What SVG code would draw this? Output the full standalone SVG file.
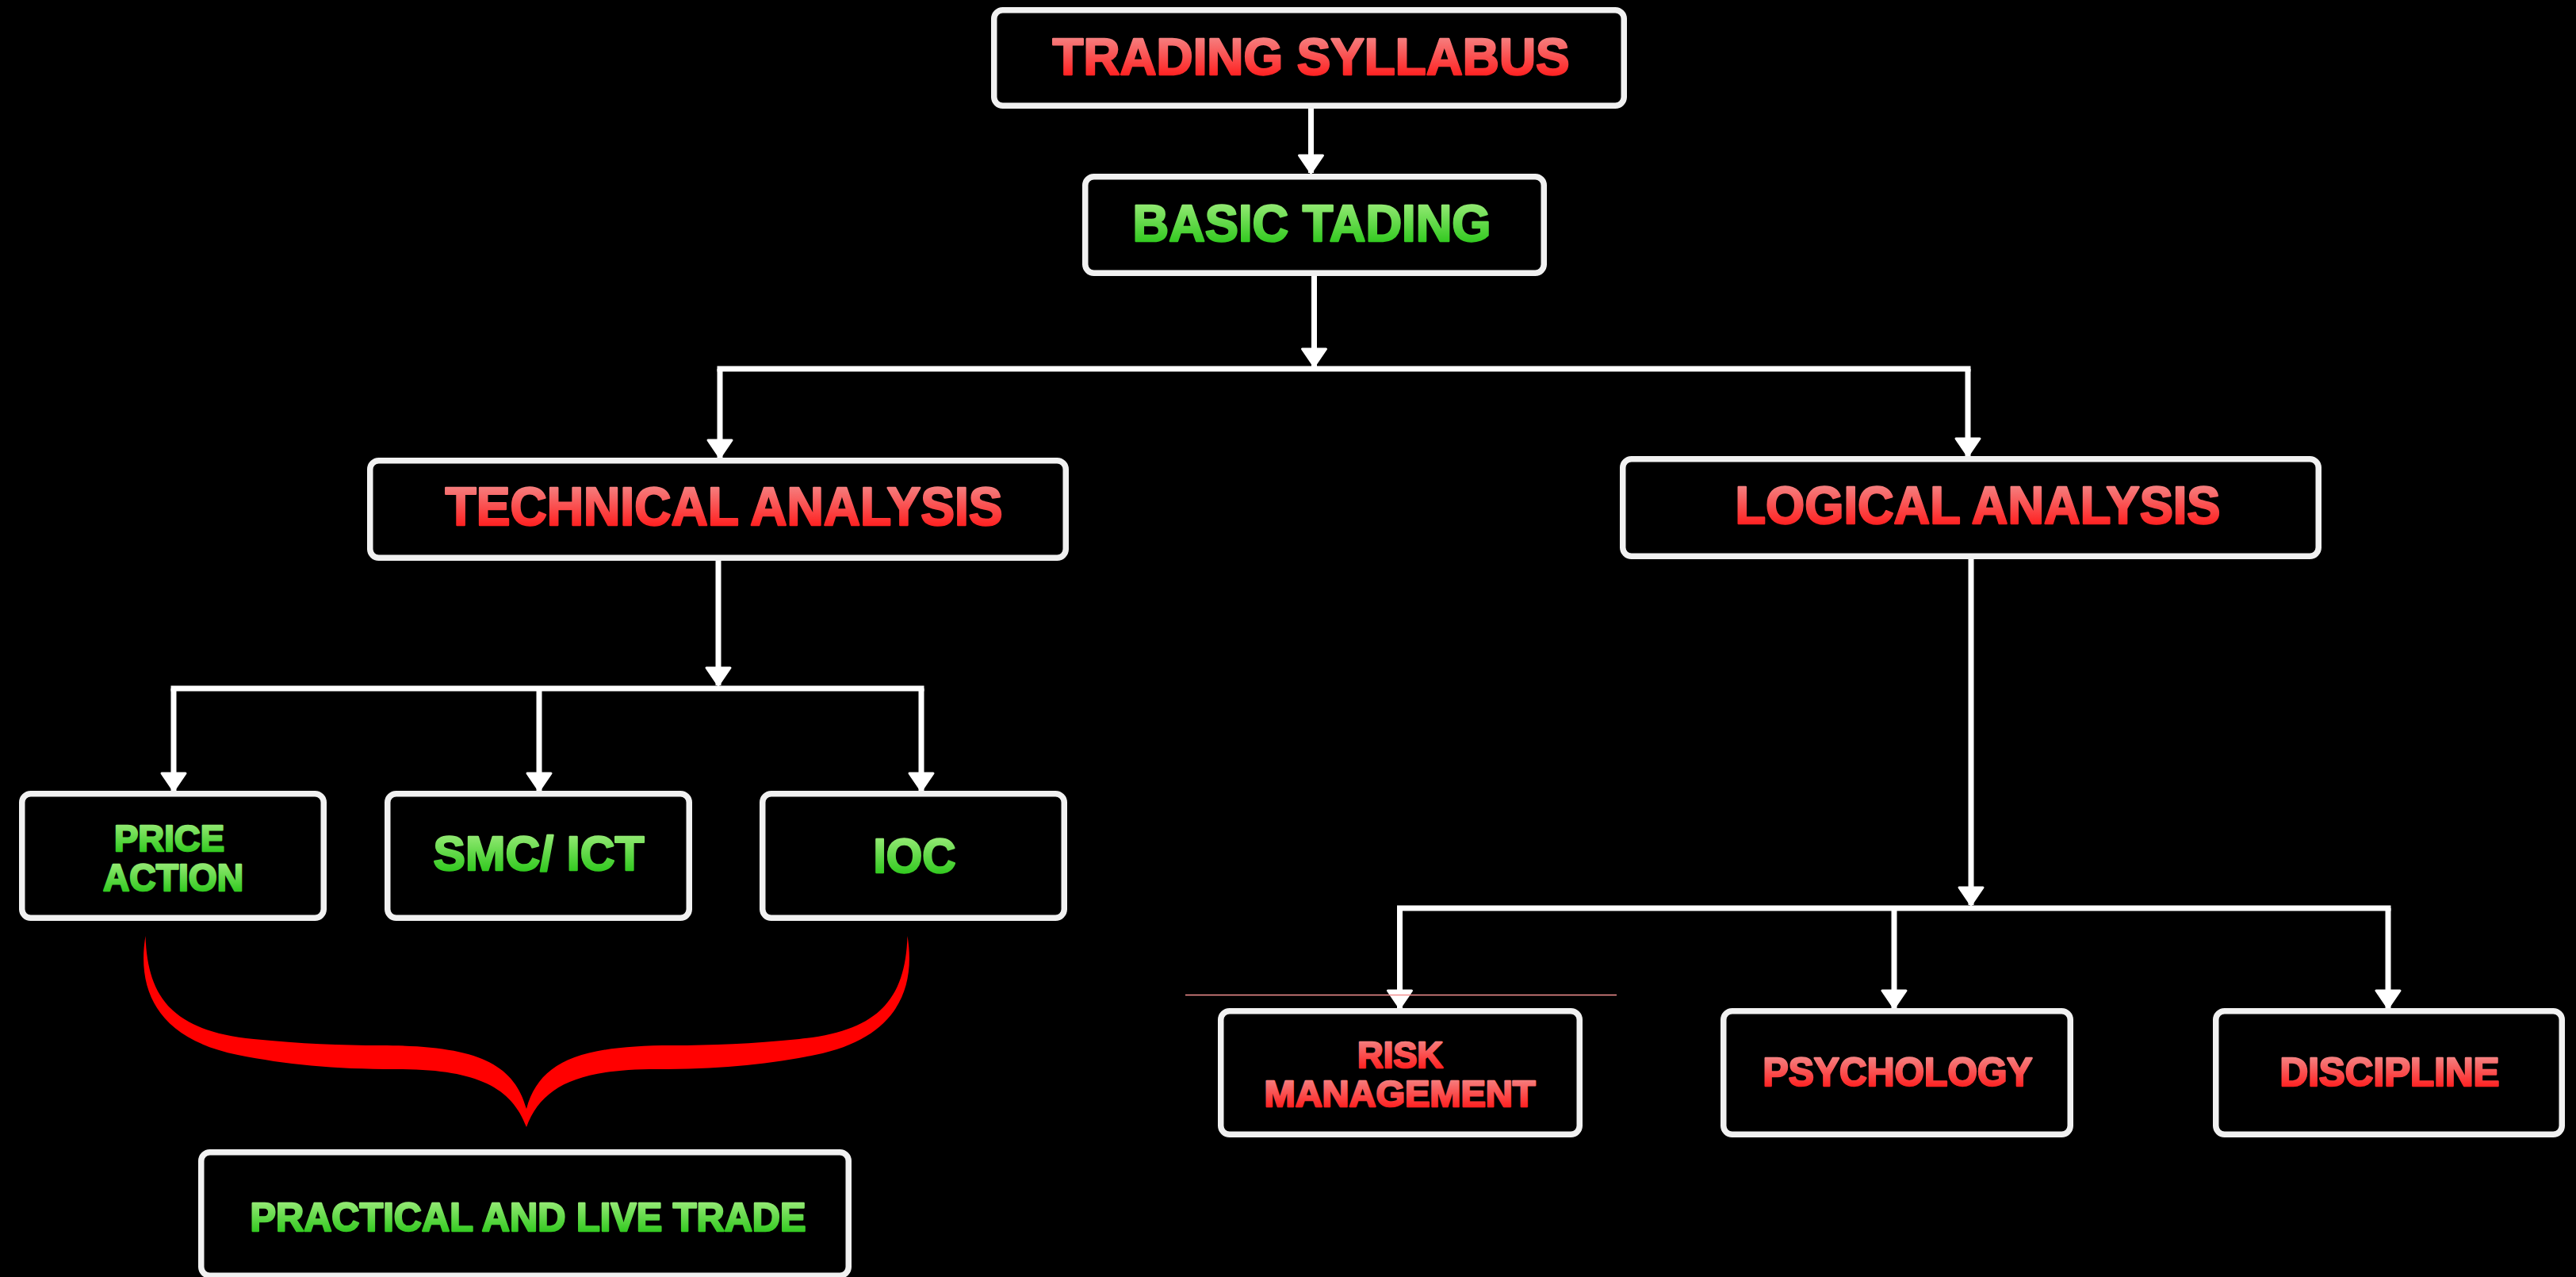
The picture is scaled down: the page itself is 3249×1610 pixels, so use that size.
<svg xmlns="http://www.w3.org/2000/svg" width="3249" height="1610" viewBox="0 0 3249 1610">
  <defs>
    <linearGradient id="gRed" x1="0" y1="0" x2="0" y2="1">
      <stop offset="0.15" stop-color="#f58282"/>
      <stop offset="0.85" stop-color="#ff1e1e"/>
    </linearGradient>
    <linearGradient id="gGreen" x1="0" y1="0" x2="0" y2="1">
      <stop offset="0.15" stop-color="#95ea75"/>
      <stop offset="0.85" stop-color="#2fc81d"/>
    </linearGradient>
    <marker id="arrow" markerUnits="userSpaceOnUse" markerWidth="28" markerHeight="36" refX="24" refY="18" orient="auto" viewBox="0 0 28 36">
      <path d="M2 3 L24 18 L2 33 Z" fill="#ffffff" stroke="#ffffff" stroke-width="3" stroke-linejoin="round"/>
    </marker>
    <style>
      .box { fill: #000000; stroke: #f1f1f1; stroke-width: 7.5; }
      .lbl { font-family: "Liberation Sans", Arial, Helvetica, sans-serif; font-weight: bold; text-anchor: middle; stroke-width: 2.5; stroke-linejoin: round; }
      .red { fill: url(#gRed); stroke: url(#gRed); }
      .green { fill: url(#gGreen); stroke: url(#gGreen); }
      .conn { fill: none; stroke: #ffffff; stroke-width: 7; }
      .bar { fill: none; stroke: #ffffff; stroke-width: 7; stroke-linecap: square; }
      .arr { marker-end: url(#arrow); }
    </style>
  </defs>
  <rect x="0" y="0" width="3249" height="1610" fill="#000000"/>

  <g id="connectors">
    <path class="conn arr" d="M1653.5 137 V218"/>
    <path class="conn arr" d="M1657.5 348 V462"/>
    <path class="bar" d="M908 465 H2482"/>
    <path class="conn arr" d="M908 465 V577"/>
    <path class="conn arr" d="M2482 465 V575"/>
    <path class="conn arr" d="M906 707 V864"/>
    <path class="bar" d="M219 868 H1162"/>
    <path class="conn arr" d="M219 868 V997"/>
    <path class="conn arr" d="M680 868 V997"/>
    <path class="conn arr" d="M1162 868 V997"/>
    <path class="conn arr" d="M2486 705 V1141"/>
    <path class="bar" d="M1765.5 1145 H3012"/>
    <path class="conn arr" d="M1765.5 1145 V1271"/>
    <path class="conn arr" d="M2389 1145 V1271"/>
    <path class="conn arr" d="M3012 1145 V1271"/>
  </g>

  <line id="thin-line" x1="1495" y1="1254.5" x2="2039" y2="1254.5" stroke="#f49090" stroke-width="1.5"/>

  <path id="brace" fill="#ff0000" d="M183.5 1180 C186 1260 220 1300 320 1310 C380 1316 430 1318 480 1318 C600 1318 648 1340 664 1398 C680 1340 728 1318 848 1318 C898 1318 948 1316 1008 1310 C1108 1300 1142 1260 1144.5 1180 C1156 1250 1128 1310 1028 1330 C968 1342 908 1348 828 1348 C728 1348 683 1370 664 1421 C645 1370 600 1348 500 1348 C420 1348 360 1342 300 1330 C200 1310 172 1250 183.5 1180 Z"/>

  <g id="node-trading-syllabus">
    <rect class="box" x="1253.75" y="12.75" width="794.5" height="120.5" rx="11"/>
    <text class="lbl red" x="1653.5" y="94" font-size="65" textLength="652" lengthAdjust="spacingAndGlyphs">TRADING SYLLABUS</text>
  </g>
  <g id="node-basic-trading">
    <rect class="box" x="1368.75" y="222.75" width="578.5" height="121.5" rx="11"/>
    <text class="lbl green" x="1654.5" y="304" font-size="65" textLength="452" lengthAdjust="spacingAndGlyphs">BASIC TADING</text>
  </g>
  <g id="node-technical-analysis">
    <rect class="box" x="466.75" y="580.75" width="877.5" height="122.5" rx="11"/>
    <text class="lbl red" x="913" y="662" font-size="68" textLength="703" lengthAdjust="spacingAndGlyphs">TECHNICAL ANALYSIS</text>
  </g>
  <g id="node-logical-analysis">
    <rect class="box" x="2046.75" y="578.75" width="877.5" height="122.5" rx="11"/>
    <text class="lbl red" x="2494.5" y="660" font-size="66" textLength="612" lengthAdjust="spacingAndGlyphs">LOGICAL ANALYSIS</text>
  </g>
  <g id="node-price-action">
    <rect class="box" x="27.75" y="1000.75" width="380.5" height="156.5" rx="11"/>
    <text class="lbl green" x="213.5" y="1073" font-size="47" textLength="139" lengthAdjust="spacingAndGlyphs">PRICE</text>
    <text class="lbl green" x="218.5" y="1123" font-size="48" textLength="177" lengthAdjust="spacingAndGlyphs">ACTION</text>
  </g>
  <g id="node-smc-ict">
    <rect class="box" x="488.75" y="1000.75" width="380.5" height="156.5" rx="11"/>
    <text class="lbl green" x="679.5" y="1097" font-size="62" textLength="266" lengthAdjust="spacingAndGlyphs">SMC/ ICT</text>
  </g>
  <g id="node-ioc">
    <rect class="box" x="961.75" y="1000.75" width="380.5" height="156.5" rx="11"/>
    <text class="lbl green" x="1153.5" y="1100" font-size="61" textLength="104" lengthAdjust="spacingAndGlyphs">IOC</text>
  </g>
  <g id="node-practical-live-trade">
    <rect class="box" x="253.75" y="1452.75" width="816.5" height="155.5" rx="11"/>
    <text class="lbl green" x="666" y="1552" font-size="50" textLength="701" lengthAdjust="spacingAndGlyphs">PRACTICAL AND LIVE TRADE</text>
  </g>
  <g id="node-risk-management">
    <rect class="box" x="1539.75" y="1274.75" width="452.5" height="155.5" rx="11"/>
    <text class="lbl red" x="1766" y="1346" font-size="47" textLength="108" lengthAdjust="spacingAndGlyphs">RISK</text>
    <text class="lbl red" x="1765.5" y="1395" font-size="47" textLength="342" lengthAdjust="spacingAndGlyphs">MANAGEMENT</text>
  </g>
  <g id="node-psychology">
    <rect class="box" x="2173.75" y="1274.75" width="437.5" height="155.5" rx="11"/>
    <text class="lbl red" x="2393.5" y="1369" font-size="50" textLength="340" lengthAdjust="spacingAndGlyphs">PSYCHOLOGY</text>
  </g>
  <g id="node-discipline">
    <rect class="box" x="2794.75" y="1274.75" width="436.5" height="155.5" rx="11"/>
    <text class="lbl red" x="3014" y="1369" font-size="50" textLength="277" lengthAdjust="spacingAndGlyphs">DISCIPLINE</text>
  </g>
</svg>
